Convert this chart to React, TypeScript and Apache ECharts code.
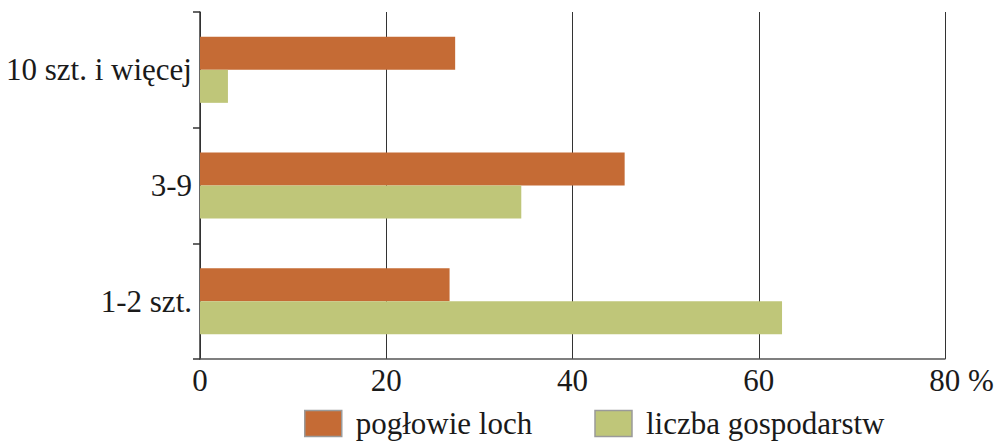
import React, { useEffect, useRef } from "react";
import * as echarts from "echarts";

const categories = ["1-2 szt.", "3-9", "10 szt. i więcej"];
const poglowieLoch = [26.8, 45.6, 27.4];
const liczbaGospodarstw = [62.5, 34.5, 3.0];
const xTicks = [0, 20, 40, 60, 80];

const FONT = "Liberation Serif";

export default function App() {
  const ref = useRef<HTMLDivElement>(null);
  useEffect(() => {
    if (!ref.current) return;
    const chart = echarts.init(ref.current, undefined, { renderer: "svg" });
    chart.setOption({
      animation: false,
      textStyle: { fontFamily: FONT },
      grid: { left: 200, right: 55, top: 12, bottom: 82, containLabel: false },
      legend: {
        data: ["pogłowie loch", "liczba gospodarstw"],
        left: 304,
        top: 408,
        padding: 0,
        itemWidth: 37,
        itemHeight: 26,
        itemGap: 62,
        icon: "rect",
        textStyle: {
          fontFamily: FONT,
          fontSize: 31,
          lineHeight: 31,
          color: "#1a1a1a",
          padding: [0, 0, 0, 9],
        },
        itemStyle: { borderColor: "#9a9a9a", borderWidth: 1.5 },
      },
      xAxis: {
        type: "value",
        min: xTicks[0],
        max: xTicks[xTicks.length - 1],
        interval: 20,
        axisLine: { show: true, lineStyle: { color: "#555", width: 1.5 } },
        axisTick: { show: false },
        splitLine: { show: true, lineStyle: { color: "#333", width: 1 } },
        axisLabel: {
          fontFamily: FONT,
          fontSize: 31,
          color: "#1a1a1a",
          margin: 6,
          formatter: (v: number) => (v === 80 ? "{pad|}80 %" : String(v)),
          rich: { pad: { width: 33, fontFamily: FONT, fontSize: 31 } },
        },
      },
      yAxis: {
        type: "category",
        data: categories,
        axisLine: { show: true, onZero: false, lineStyle: { color: "#333", width: 1.5 } },
        axisTick: { show: true, length: 7, inside: false, lineStyle: { color: "#333", width: 1.5 } },
        axisLabel: {
          fontFamily: FONT,
          fontSize: 31,
          color: "#1a1a1a",
          margin: 8,
        },
        splitLine: { show: false },
      },
      series: [
        {
          name: "pogłowie loch",
          type: "bar",
          data: poglowieLoch,
          barWidth: 33,
          barGap: "0%",
          itemStyle: { color: "#C56B35" },
        },
        {
          name: "liczba gospodarstw",
          type: "bar",
          data: liczbaGospodarstw,
          barWidth: 33,
          barGap: "0%",
          itemStyle: { color: "#BFC679" },
        },
      ],
    });
    return () => chart.dispose();
  }, []);
  return <div ref={ref} style={{ width: 1000, height: 441, position: "absolute", left: 0, top: 0 }} />;
}
